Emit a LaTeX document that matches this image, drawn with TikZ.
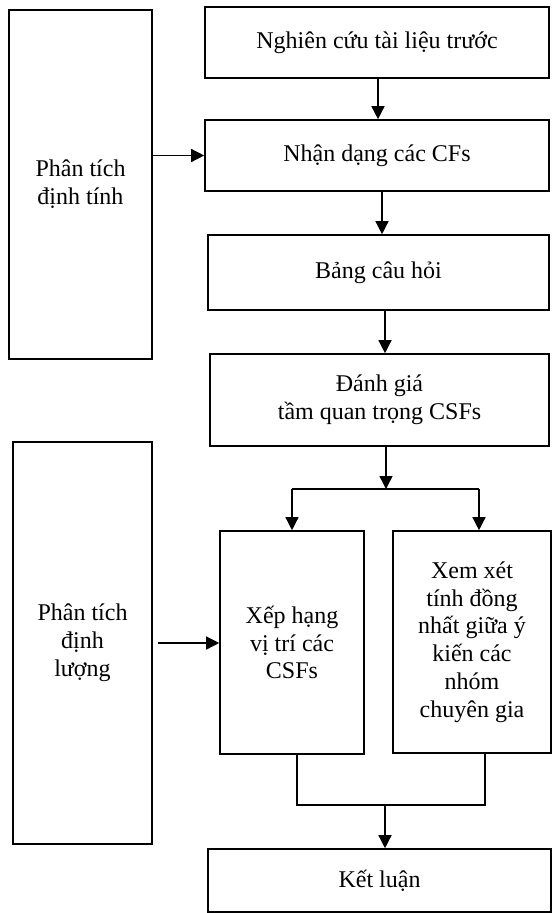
\documentclass[tikz,border=0pt]{standalone}
\usepackage{fontspec}
\setmainfont{Liberation Serif}
\usepackage{tikz}
\usetikzlibrary{arrows.meta}

\tikzset{
    box/.style={draw, line width=1.6pt, align=center, inner sep=0pt,
        font=\fontsize{24}{27.8}\selectfont},
    arr/.style={line width=1.4pt, -{Triangle[length=13pt, width=13pt]}},
    link/.style={line width=1.2pt}
}

\begin{document}
\begin{tikzpicture}[x=1pt, y=-1pt]
    \useasboundingbox (0,0) rectangle (552,913);

    % Left side: phases
    \node[box, minimum width=143, minimum height=349] (qual) at (80.5,184.5) {Phân tích\\định tính};
    \node[box, minimum width=139, minimum height=402] (quan) at (82.5,643) {Phân tích\\định\\lượng};

    % Main steps
    \node[box, minimum width=344, minimum height=71] (lit) at (377,42.5) {Nghiên cứu tài liệu trước};
    \node[box, minimum width=344, minimum height=71] (iden) at (377,155.5) {Nhận dạng các CFs};
    \node[box, minimum width=341, minimum height=75] (ques) at (378.5,272.5) {Bảng câu hỏi};
    \node[box, minimum width=339, minimum height=92] (eval) at (379.5,400) {Đánh giá\\tầm quan trọng CSFs};
    \node[box, minimum width=144, minimum height=223] (rank) at (292,642.5) {Xếp hạng\\vị trí các\\CSFs};
    \node[box, minimum width=158, minimum height=222] (cons) at (472,642) {Xem xét\\tính đồng\\nhất giữa ý\\kiến các\\nhóm\\chuyên gia};
    \node[box, minimum width=343, minimum height=63] (concl) at (379.5,880.5) {Kết luận};

    % Vertical flow
    \draw[arr] ([xshift=1pt]lit.south) -- ([xshift=1pt]lit.south |- iden.north);
    \draw[arr] ([xshift=5pt]iden.south) -- ([xshift=5pt]iden.south |- ques.north);
    \draw[arr] ([xshift=6.5pt]ques.south) -- ([xshift=6.5pt]ques.south |- eval.north);

    % Split into two branches
    \coordinate (split) at ([xshift=6.5pt]eval.south |- 0,489);
    \draw[arr] ([xshift=6.5pt]eval.south) -- (split);
    \draw[link] (rank.north |- split) -- ([xshift=7pt]cons.north |- split);
    \foreach \b/\s in {rank/0, cons/7} {
        \draw[arr] ([xshift=\s pt]\b.north |- split) -- ([xshift=\s pt]\b.north);
    }

    % Merge into conclusion
    \coordinate (merge) at ([xshift=5.5pt]concl.north |- 0,805);
    \draw[link] ([xshift=5pt]rank.south) |- (merge) -| ([xshift=13pt]cons.south);
    \draw[arr] (merge) -- ([xshift=5.5pt]concl.north);

    % Phases into steps
    \draw[arr] (qual.east |- iden.west) -- (iden.west);
    \draw[arr] ([xshift=5pt]quan.east) -- (quan.east -| rank.west);
\end{tikzpicture}
\end{document}
